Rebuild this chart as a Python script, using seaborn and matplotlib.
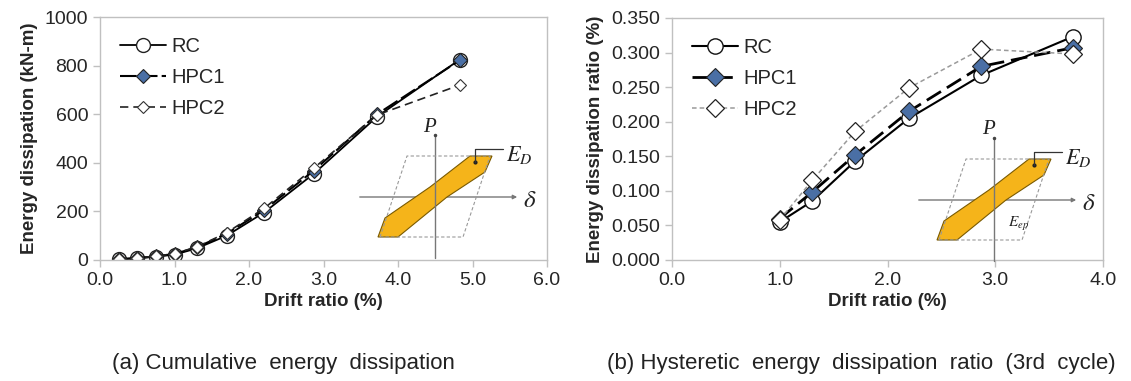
import numpy as np
import pandas as pd
import matplotlib
matplotlib.use('Agg')
import matplotlib.pyplot as plt
import seaborn as sns
from matplotlib.patches import Polygon, FancyArrowPatch

# (a) cumulative energy dissipation
drift_a = [0.25, 0.5, 0.75, 1.0, 1.3, 1.7, 2.2, 2.87, 3.72, 4.83]
rc_a = [3, 7, 14, 22, 48, 100, 195, 355, 590, 825]
hpc1_a = [4, 8, 15, 25, 52, 108, 205, 368, 600, 822]
hpc2_a = [4, 8, 16, 26, 54, 112, 212, 378, 597, 720]

# (b) hysteretic energy dissipation ratio (3rd cycle)
drift_b = [1.0, 1.3, 1.7, 2.2, 2.87, 3.72]
rc_b = [0.055, 0.085, 0.143, 0.205, 0.267, 0.323]
hpc1_b = [0.060, 0.098, 0.152, 0.215, 0.280, 0.307]
hpc2_b = [0.058, 0.115, 0.186, 0.249, 0.305, 0.298]

labels = ['RC', 'HPC1', 'HPC2']

sns.set_style('white')
plt.rcParams['font.family'] = ['Liberation Sans', 'DejaVu Sans']
plt.rcParams['mathtext.fontset'] = 'stix'

W, H = 1131, 381
fig = plt.figure(figsize=(W / 100, H / 100), dpi=100)


def px_axes(l, r, t, b):
    return fig.add_axes([l / W, 1 - b / H, (r - l) / W, (b - t) / H])


ax1 = px_axes(100, 547, 17, 260)
ax2 = px_axes(672, 1103, 18, 260)

blue = '#4a6fa5'
styles_a = [
    dict(color='black', lw=1.3, linestyle='-', marker='o', markersize=10,
         markerfacecolor='white', markeredgecolor='#222222', markeredgewidth=1.0),
    dict(color='black', lw=1.5, linestyle=(0, (8, 2)), marker='D', markersize=7,
         markerfacecolor=blue, markeredgecolor='#222222', markeredgewidth=0.8),
    dict(color='#222222', lw=1.2, linestyle=(0, (5, 3)), marker='D', markersize=6,
         markerfacecolor='white', markeredgecolor='#333333', markeredgewidth=0.8),
]
styles_b = [
    dict(color='black', lw=1.5, linestyle='-', marker='o', markersize=11,
         markerfacecolor='white', markeredgecolor='#111111', markeredgewidth=1.0),
    dict(color='black', lw=2.0, linestyle=(0, (6, 2.5)), marker='D', markersize=9,
         markerfacecolor=blue, markeredgecolor='#222222', markeredgewidth=0.8),
    dict(color='#9a9a9a', lw=1.1, linestyle=(0, (3, 2)), marker='D', markersize=9,
         markerfacecolor='white', markeredgecolor='#222222', markeredgewidth=0.9),
]

for ys, lab, st in zip([rc_a, hpc1_a, hpc2_a], labels, styles_a):
    df = pd.DataFrame({'drift': drift_a, 'val': ys})
    sns.lineplot(data=df, x='drift', y='val', ax=ax1, label=lab, errorbar=None, **st)
for ys, lab, st in zip([rc_b, hpc1_b, hpc2_b], labels, styles_b):
    df = pd.DataFrame({'drift': drift_b, 'val': ys})
    sns.lineplot(data=df, x='drift', y='val', ax=ax2, label=lab, errorbar=None, **st)

ax1.set_xlim(0, 6)
ax1.set_ylim(0, 1000)
ax1.set_xticks(np.arange(0, 6.01, 1.0))
ax1.set_yticks(np.arange(0, 1001, 200))
ax1.set_xticklabels([f'{v:.1f}' for v in np.arange(0, 6.01, 1.0)])
ax2.set_xlim(0, 4)
ax2.set_ylim(0, 0.35)
ax2.set_xticks(np.arange(0, 4.01, 1.0))
ax2.set_yticks(np.arange(0, 0.351, 0.05))
ax2.set_xticklabels([f'{v:.1f}' for v in np.arange(0, 4.01, 1.0)])
ax2.set_yticklabels([f'{v:.3f}' for v in np.arange(0, 0.351, 0.05)])

lab_font = dict(family=['Liberation Sans Narrow', 'Liberation Sans'], weight='bold', size=13.5)
ax1.set_xlabel('Drift ratio (%)', labelpad=3, **lab_font)
ax1.set_ylabel('Energy dissipation (kN-m)', labelpad=5, **lab_font)
ax2.set_xlabel('Drift ratio (%)', labelpad=3, **lab_font)
ax2.set_ylabel('Energy dissipation ratio (%)', labelpad=5, **lab_font)

for ax in (ax1, ax2):
    for s in ax.spines.values():
        s.set_color('#c0c0c0')
        s.set_linewidth(1.0)
    ax.tick_params(axis='both', labelsize=14, colors='#c0c0c0', labelcolor='#262626',
                   length=5, width=1, direction='out', bottom=True, left=True)
    leg = ax.legend(loc='upper left', frameon=False, fontsize=14.5, handlelength=2.3,
                    handletextpad=0.25, labelspacing=0.6, borderaxespad=0.6)
    for t in leg.get_texts():
        t.set_color('#262626')

# captions
cap_font = dict(family=['Liberation Sans Narrow', 'Liberation Sans'], color='#222222', size=16)
fig.text(283 / W, 1 - 363 / H, '(a) Cumulative  energy  dissipation', ha='center', va='center',
         **cap_font)
fig.text(861 / W, 1 - 363 / H, '(b) Hysteretic  energy  dissipation  ratio  (3rd  cycle)',
         ha='center', va='center', **cap_font)

# hysteresis schematics (pixel-coordinate overlay)
ov = fig.add_axes([0, 0, 1, 1], zorder=5)
ov.set_xlim(0, W)
ov.set_ylim(H, 0)
ov.axis('off')
ov.patch.set_alpha(0)


def schematic(ox, oy, show_ep):
    # ox, oy: origin of P-delta axes in pixels
    gray = '#777777'
    ov.plot([ox, ox], [oy - 62, oy + 61], color=gray, lw=1.0)
    ov.plot([ox], [oy - 62], marker='o', ms=1.5, color='#444444')
    ov.add_patch(FancyArrowPatch((ox - 78, oy), (ox + 85, oy), arrowstyle='-|>',
                                 mutation_scale=6, color=gray, lw=1.0))
    para = np.array([[-55, 40], [28, 40], [55, -41], [-28, -41], [-55, 40]])
    ov.plot(ox + para[:, 0], oy + para[:, 1], color='#999999', lw=0.8, linestyle=(0, (3, 2)))
    poly = np.array([[-57, 40], [-37, 40], [12, 0], [50, -25], [57, -41],
                     [35, -41], [-5, -10], [-50, 21]])
    ov.add_patch(Polygon(np.column_stack([ox + poly[:, 0], oy + poly[:, 1]]),
                         closed=True, facecolor='#f5b41a', edgecolor='#7a5a00', lw=0.8))
    ov.plot([ox + 40], [oy - 35], marker='o', ms=2, color='#222222')
    ov.plot([ox + 40, ox + 40, ox + 68], [oy - 35, oy - 48, oy - 48], color='#333333', lw=0.9)
    serif = dict(family=['Liberation Serif', 'DejaVu Serif'], color='#222222')
    ov.text(ox - 6, oy - 70, 'P', style='italic', size=15, ha='center', va='center', **serif)
    ov.text(ox + 95, oy + 3, r'$\delta$', size=18, ha='center', va='center', color='#222222')
    ov.text(ox + 71, oy - 42, r'$E_D$', size=16, ha='left', va='center', color='#222222')
    if show_ep:
        ov.text(ox + 14, oy + 24, r'$E_{ep}$', size=11, ha='left', va='center', color='#222222')


schematic(435, 197, False)
schematic(994, 200, True)

fig.savefig('out.png', dpi=100)
